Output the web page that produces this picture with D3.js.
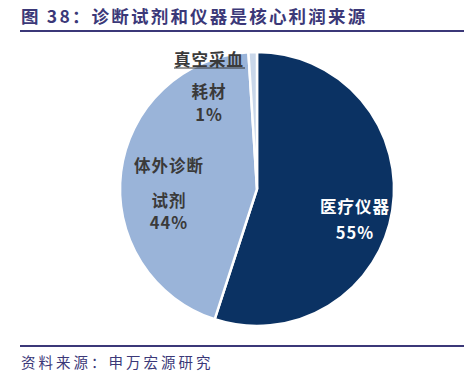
<!DOCTYPE html>
<html>
<head>
<meta charset="utf-8">
<script src="https://cdn.jsdelivr.net/npm/d3@7"></script>
<style>
  html, body { margin: 0; padding: 0; background: #fff; }
</style>
</head>
<body>
<script>
// slice data, clockwise from 12 o'clock
const categories = ["医疗仪器", "体外诊断试剂", "真空采血耗材"];
const shares = [55, 44, 1];
const labelLines = [["医疗仪器"], ["体外诊断", "试剂"], ["真空采血", "耗材"]];
const colors = ["#0b3263", "#9ab4d9", "#c9d7ea"];

const W = 474, H = 382;
const cx = 257, cy = 189, r = 137;
const cjk = "'Noto Sans CJK SC', 'Noto Sans', sans-serif";
const ink = "#3b3878";

const svg = d3.select("body").append("svg")
    .attr("width", W)
    .attr("height", H);

// Title and rules
svg.append("text")
    .attr("x", 21)
    .attr("y", 23)
    .attr("font-family", cjk)
    .attr("font-size", 17.5)
    .attr("font-weight", "bold")
    .attr("letter-spacing", 2.2)
    .attr("fill", ink)
    .text("图 38：诊断试剂和仪器是核心利润来源");

svg.append("line")
    .attr("x1", 20).attr("x2", 464)
    .attr("y1", 31).attr("y2", 31)
    .attr("stroke", ink).attr("stroke-width", 2);

svg.append("line")
    .attr("x1", 20).attr("x2", 464)
    .attr("y1", 346).attr("y2", 346)
    .attr("stroke", ink).attr("stroke-width", 2);

svg.append("text")
    .attr("x", 21)
    .attr("y", 368)
    .attr("font-family", cjk)
    .attr("font-size", 14.5)
    .attr("letter-spacing", 3)
    .attr("fill", ink)
    .text("资料来源：申万宏源研究");

// Pie
const data = categories.map((c, i) => ({ name: c, value: shares[i], lines: labelLines[i], color: colors[i] }));

const pie = d3.pie().value(d => d.value).sort(null);
const arc = d3.arc().innerRadius(0).outerRadius(r);

const g = svg.append("g").attr("transform", `translate(${cx},${cy})`);

g.selectAll("path")
    .data(pie(data))
    .join("path")
    .attr("d", arc)
    .attr("fill", d => d.data.color)
    .attr("stroke", "#fff")
    .attr("stroke-width", 2.5);

// Labels: baselines for each line relative to the pie centre
const labelPos = [
    { x: 98, ys: [24, 50], color: "#fff" },
    { x: -88, ys: [-17, 18, 40], color: "#3a3a3a" },
    { x: -48, ys: [-123, -91, -68], color: "#3a3a3a" }
];

data.forEach((d, i) => {
    const p = labelPos[i];
    const t = g.append("text")
        .attr("text-anchor", "middle")
        .attr("font-family", cjk)
        .attr("font-size", 16.5)
        .attr("font-weight", "bold")
        .attr("letter-spacing", 1)
        .attr("fill", p.color);
    const lines = d.lines.concat([d.value + "%"]);
    lines.forEach((ln, j) => {
        t.append("tspan")
            .attr("x", p.x)
            .attr("y", p.ys[j])
            .text(ln);
    });
});

// underline under the outside label of the tiny slice
g.append("line")
    .attr("x1", -83).attr("x2", -12)
    .attr("y1", -121).attr("y2", -121)
    .attr("stroke", "#333").attr("stroke-width", 1);
</script>
</body>
</html>
